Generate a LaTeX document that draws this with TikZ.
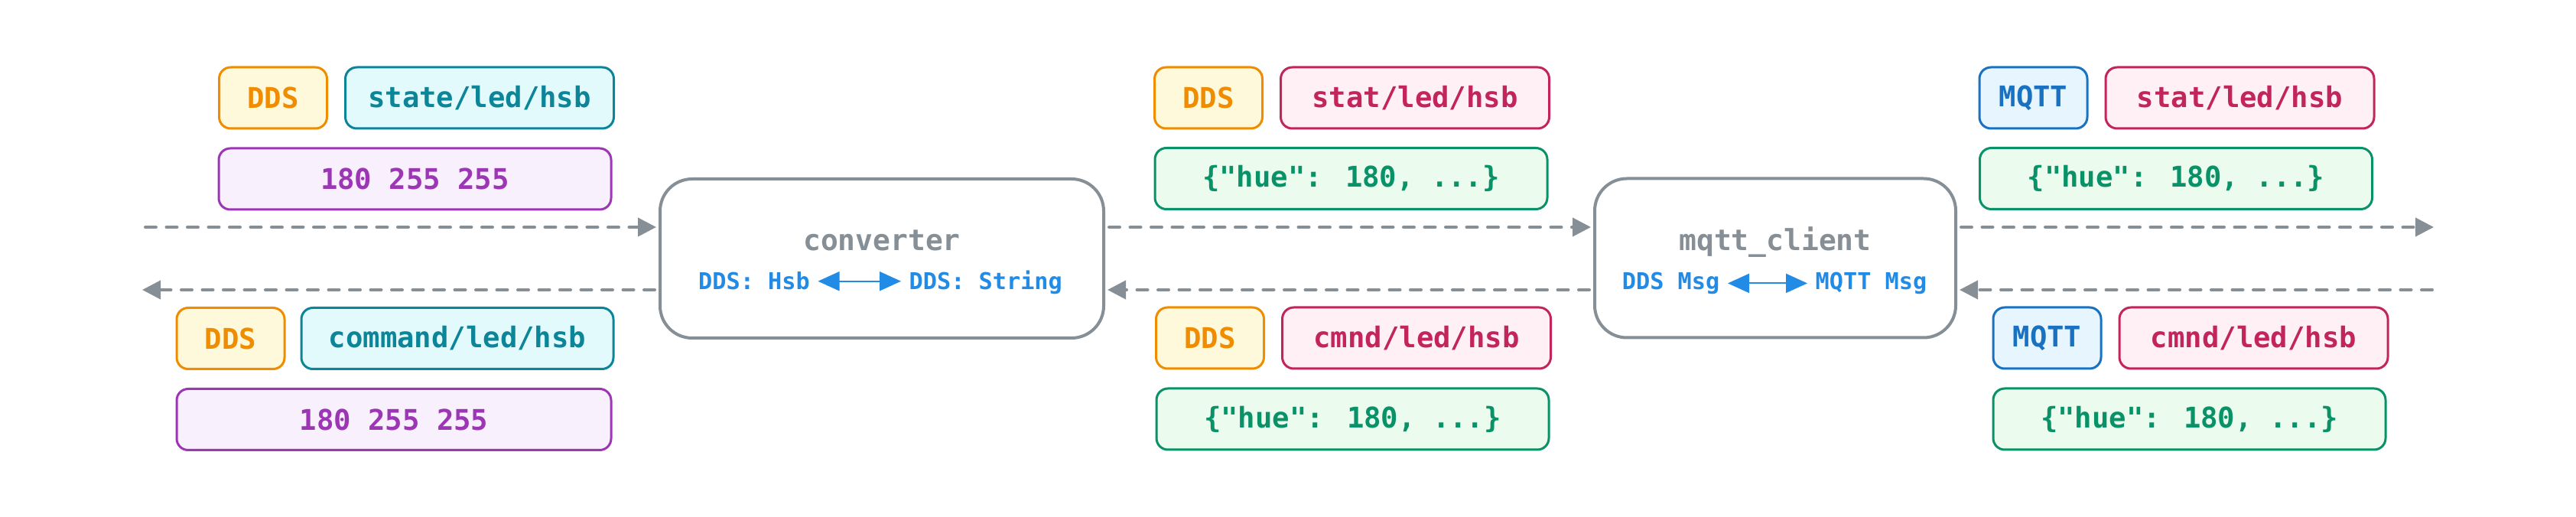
\documentclass[tikz,border=0pt]{standalone}
\usepackage{fontspec}
\usepackage{xcolor}
\usepackage{tikz}
\usetikzlibrary{arrows.meta, positioning}

\newfontfamily\code{DejaVu Sans Mono}

\definecolor{ddsline}{HTML}{F08C00}
\definecolor{ddsfill}{HTML}{FFF9DB}
\definecolor{mqline}{HTML}{1971C2}
\definecolor{mqfill}{HTML}{E7F5FF}
\definecolor{rosline}{HTML}{0C8599}
\definecolor{rosfill}{HTML}{E3FAFC}
\definecolor{topline}{HTML}{C2255C}
\definecolor{topfill}{HTML}{FFF0F6}
\definecolor{hsbline}{HTML}{9C36B5}
\definecolor{hsbfill}{HTML}{F8F0FC}
\definecolor{jsonline}{HTML}{099268}
\definecolor{jsonfill}{HTML}{EBFBEE}
\definecolor{wire}{HTML}{868E96}
\definecolor{typeblue}{HTML}{228BE6}

\begin{document}
\begin{tikzpicture}[
  node distance=0.21cm,
  chip/.style={draw, rounded corners=0.15cm, line width=0.03cm, minimum height=0.8cm, inner sep=0pt, font=\code\bfseries\fontsize{10.6pt}{12pt}\selectfont},
  dds/.style={chip, draw=ddsline, fill=ddsfill, text=ddsline, minimum width=1.41cm},
  mqtt/.style={chip, draw=mqline, fill=mqfill, text=mqline, minimum width=1.41cm},
  rostopic/.style={chip, draw=rosline, fill=rosfill, text=rosline},
  mqtopic/.style={chip, draw=topline, fill=topfill, text=topline, minimum width=3.51cm},
  hsbval/.style={chip, draw=hsbline, fill=hsbfill, text=hsbline},
  jsonval/.style={chip, draw=jsonline, fill=jsonfill, text=jsonline, minimum width=5.13cm},
  proc/.style={draw=wire, line width=0.04cm, rounded corners=0.42cm, fill=white, minimum height=2.08cm},
  title/.style={text=wire, inner sep=0pt, anchor=base, font=\code\bfseries\fontsize{10.8pt}{13pt}\selectfont},
  typ/.style={text=typeblue, inner xsep=0.1cm, inner ysep=0pt, font=\code\bfseries\fontsize{8.6pt}{10pt}\selectfont},
  flow/.style={draw=wire, line width=0.04cm, dash pattern=on 0.14cm off 0.135cm, line cap=round, shorten >=0.03cm, shorten <=0.05cm, -{Triangle[length=0.24cm, width=0.24cm]}},
  swap/.style={draw=typeblue, line width=0.02cm, {Triangle[length=0.28cm, width=0.25cm]}-{Triangle[length=0.28cm, width=0.25cm]}}
]
\fill[white] (0,0) rectangle (33.68,-6.76);
\useasboundingbox (0,0) rectangle (33.68,-6.76);

% left: DDS side of converter
\node[dds] (ddsA) at (3.57,-1.28) {DDS};
\node[rostopic, minimum width=3.51cm, right=of ddsA] (stateA) {state/led/hsb};
\node[hsbval, minimum width=5.13cm] (valA) at (5.425,-2.34) {180 255 255};

\node[dds] (ddsB) at (3.015,-4.425) {DDS};
\node[rostopic, minimum width=4.08cm, right=0.19cm of ddsB] (cmdB) {command/led/hsb};
\node[hsbval, minimum width=5.68cm] (valB) at (5.15,-5.485) {180 255 255};

% middle: between converter and mqtt_client
\node[dds] (ddsC) at (15.80,-1.28) {DDS};
\node[mqtopic, right=of ddsC] (statC) {stat/led/hsb};
\node[jsonval] (jsonC) at (17.665,-2.335) {\{"hue": 180, ...\}};

\node[dds] (ddsD) at (15.82,-4.42) {DDS};
\node[mqtopic, right=of ddsD] (cmndD) {cmnd/led/hsb};
\node[jsonval] (jsonD) at (17.685,-5.48) {\{"hue": 180, ...\}};

% right: broker side
\node[mqtt] (mqE) at (26.585,-1.28) {MQTT};
\node[mqtopic, right=of mqE] (statE) {stat/led/hsb};
\node[jsonval] (jsonE) at (28.45,-2.335) {\{"hue": 180, ...\}};

\node[mqtt] (mqF) at (26.765,-4.42) {MQTT};
\node[mqtopic, right=of mqF] (cmndF) {cmnd/led/hsb};
\node[jsonval] (jsonF) at (28.625,-5.48) {\{"hue": 180, ...\}};

% processes
\node[proc, minimum width=5.80cm] (conv) at (11.53,-3.38) {};
\node[title] (convname) at ([yshift=0.10cm]conv.center) {converter};
\node[typ, anchor=base east] (hsb) at ([xshift=-0.835cm, yshift=-0.41cm]conv.center) {DDS: Hsb};
\node[typ, anchor=base west] (str) at ([xshift=0.25cm, yshift=-0.41cm]conv.center) {DDS: String};
\draw[swap] (hsb.east) -- (hsb.east -| str.west);

\node[proc, minimum width=4.72cm] (client) at (23.21,-3.375) {};
\node[title] (clientname) at ([yshift=0.10cm]client.center) {mqtt\_client};
\node[typ, anchor=base east] (ddsmsg) at ([xshift=-0.62cm, yshift=-0.41cm]client.center) {DDS Msg};
\node[typ, anchor=base west] (mqmsg) at ([xshift=0.42cm, yshift=-0.41cm]client.center) {MQTT Msg};
\draw[swap] (ddsmsg.east) -- (ddsmsg.east -| mqmsg.west);

% data flow
\coordinate (src) at (1.85,-2.97);
\coordinate (sink) at (31.85,-2.97);
\coordinate (cmdsrc) at (31.85,-3.79);
\coordinate (cmdsink) at (1.83,-3.79);

\draw[flow] (src) -- (src -| conv.west);
\draw[flow] (src -| conv.east) -- (src -| client.west);
\draw[flow] (src -| client.east) -- (sink);
\draw[flow] (cmdsrc) -- (cmdsrc -| client.east);
\draw[flow] (cmdsrc -| client.west) -- (cmdsrc -| conv.east);
\draw[flow] (cmdsrc -| conv.west) -- (cmdsink);
\end{tikzpicture}
\end{document}
